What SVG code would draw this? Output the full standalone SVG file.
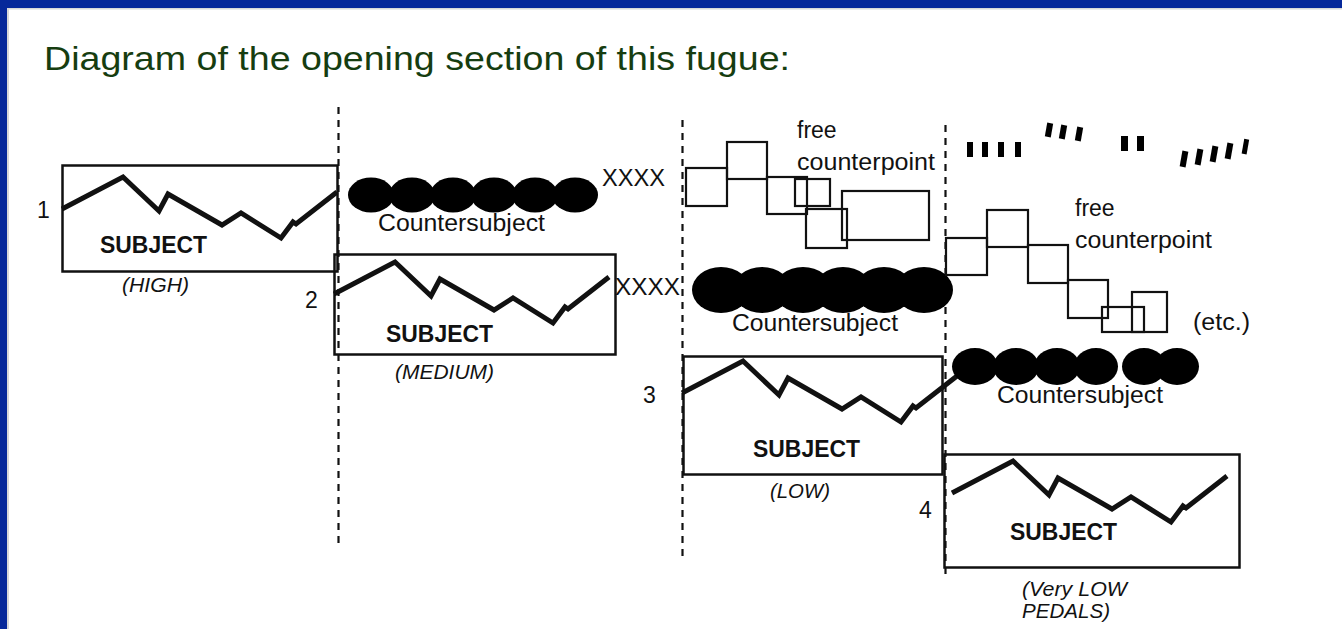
<svg xmlns="http://www.w3.org/2000/svg" xmlns:xlink="http://www.w3.org/1999/xlink" width="1342" height="629" viewBox="0 0 1342 629">
<style>
.t{font-family:"Liberation Sans",Arial,sans-serif;fill:#111}
.lbl{font-size:23px}
.sub{font-size:23px;font-weight:bold}
.it{font-size:20.5px;font-style:italic}
.box{fill:none;stroke:#111;stroke-width:2.5}
.sq{fill:none;stroke:#111;stroke-width:2.2}
.zz{fill:none;stroke:#111;stroke-width:5;stroke-linejoin:miter}
.dash{stroke:#111;stroke-width:2.2;stroke-dasharray:7,6}
.cs{fill:#000}
.bar{fill:#000}
</style>
<defs>
<path id="zz" d="M0,0 L61,-32 L97,2 L106,-15 L160,16 L179,4 L219,29 L231,13 L234,15 L275,-17"/>
</defs>
<rect x="0" y="0" width="1342" height="629" fill="#fff"/>
<rect x="0" y="0" width="1342" height="8" fill="#06289a"/>
<rect x="0" y="0" width="7" height="629" fill="#06289a"/>
<rect x="7" y="8" width="2" height="621" fill="#d8d8d8"/>
<rect x="7" y="8" width="1335" height="1.5" fill="#d8d8d8"/>

<text x="44" y="70" font-family="Liberation Sans,Arial,sans-serif" font-size="33" fill="#163d10" textLength="746" lengthAdjust="spacingAndGlyphs">Diagram of the opening section of this fugue:</text>

<g id="connectors">
<line class="dash" x1="338.5" y1="107" x2="338.5" y2="546"/>
<line class="dash" x1="682.5" y1="120" x2="682.5" y2="561"/>
<line class="dash" x1="945.5" y1="125" x2="945.5" y2="575"/>
</g>

<g id="entry1">
<rect class="box" x="62.5" y="165.5" width="275" height="106"/>
<use xlink:href="#zz" href="#zz" class="zz" transform="translate(62,209)"/>
<text class="t sub" x="100" y="253" textLength="107" lengthAdjust="spacingAndGlyphs">SUBJECT</text>
<text class="t it" x="122" y="292" textLength="67" lengthAdjust="spacingAndGlyphs">(HIGH)</text>
<text class="t lbl" x="37" y="218">1</text>
</g>

<g id="countersubject1">
<ellipse class="cs" cx="371" cy="195" rx="23" ry="17.5"/>
<ellipse class="cs" cx="412" cy="195" rx="23" ry="17.5"/>
<ellipse class="cs" cx="453" cy="195" rx="23" ry="17.5"/>
<ellipse class="cs" cx="494" cy="195" rx="23" ry="17.5"/>
<ellipse class="cs" cx="535" cy="195" rx="23" ry="17.5"/>
<ellipse class="cs" cx="575" cy="195" rx="23" ry="17.5"/>
<text class="t lbl" x="378" y="231" textLength="167" lengthAdjust="spacingAndGlyphs">Countersubject</text>
<text class="t lbl" x="602" y="186" textLength="63" lengthAdjust="spacingAndGlyphs">XXXX</text>
</g>

<g id="entry2">
<rect class="box" x="334.5" y="254.5" width="281" height="100"/>
<use xlink:href="#zz" href="#zz" class="zz" transform="translate(334,294)"/>
<text class="t sub" x="386" y="342" textLength="107" lengthAdjust="spacingAndGlyphs">SUBJECT</text>
<text class="t it" x="395" y="379" textLength="99" lengthAdjust="spacingAndGlyphs">(MEDIUM)</text>
<text class="t lbl" x="305" y="308">2</text>
<text class="t lbl" x="615" y="295" textLength="65" lengthAdjust="spacingAndGlyphs">XXXX</text>
</g>

<g id="freecp1">
<rect class="sq" x="686" y="168" width="41" height="38"/>
<rect class="sq" x="727" y="142" width="40" height="37"/>
<rect class="sq" x="767" y="177" width="40" height="37"/>
<rect class="sq" x="795" y="179" width="35" height="27"/>
<rect class="sq" x="806" y="209" width="41" height="39"/>
<rect class="sq" x="842" y="191" width="87" height="49"/>
<text class="t lbl" x="797" y="138">free</text>
<text class="t lbl" x="797" y="170" textLength="138" lengthAdjust="spacingAndGlyphs">counterpoint</text>
</g>

<g id="countersubject2">
<ellipse class="cs" cx="721" cy="290" rx="29" ry="23"/>
<ellipse class="cs" cx="762" cy="290" rx="29" ry="23"/>
<ellipse class="cs" cx="803" cy="290" rx="29" ry="23"/>
<ellipse class="cs" cx="843" cy="290" rx="29" ry="23"/>
<ellipse class="cs" cx="884" cy="290" rx="29" ry="23"/>
<ellipse class="cs" cx="924" cy="290" rx="29" ry="23"/>
<text class="t lbl" x="732" y="331" textLength="166" lengthAdjust="spacingAndGlyphs">Countersubject</text>
</g>

<g id="entry3">
<rect class="box" x="683.5" y="356.5" width="259" height="118"/>
<use xlink:href="#zz" href="#zz" class="zz" transform="translate(682,393)"/>
<text class="t sub" x="753" y="457" textLength="107" lengthAdjust="spacingAndGlyphs">SUBJECT</text>
<text class="t it" x="770" y="498" textLength="60" lengthAdjust="spacingAndGlyphs">(LOW)</text>
<text class="t lbl" x="643" y="403">3</text>
</g>

<g id="freecp2">
<rect class="bar" x="967" y="142" width="6" height="15"/>
<rect class="bar" x="982" y="142" width="6" height="15"/>
<rect class="bar" x="998" y="142" width="6" height="15"/>
<rect class="bar" x="1015" y="142" width="6" height="15"/>
<rect class="bar" x="1046" y="123" width="6" height="14" transform="rotate(10 1049 130)"/>
<rect class="bar" x="1060" y="125" width="6" height="14" transform="rotate(10 1063 132)"/>
<rect class="bar" x="1076" y="127" width="6" height="14" transform="rotate(10 1079 134)"/>
<rect class="bar" x="1121" y="136" width="7" height="15"/>
<rect class="bar" x="1137" y="136" width="7" height="15"/>
<rect class="bar" x="1181" y="151" width="6" height="16" transform="rotate(10 1184 159)"/>
<rect class="bar" x="1196" y="149" width="6" height="16" transform="rotate(10 1199 157)"/>
<rect class="bar" x="1211" y="146" width="6" height="16" transform="rotate(10 1214 154)"/>
<rect class="bar" x="1226" y="143" width="6" height="16" transform="rotate(10 1229 151)"/>
<rect class="bar" x="1243" y="139" width="5" height="15" transform="rotate(10 1245 146)"/>
<rect class="sq" x="946" y="238" width="41" height="37"/>
<rect class="sq" x="987" y="210" width="41" height="37"/>
<rect class="sq" x="1028" y="245" width="40" height="38"/>
<rect class="sq" x="1068" y="280" width="40" height="38"/>
<rect class="sq" x="1102" y="307" width="42" height="25"/>
<rect class="sq" x="1132" y="292" width="35" height="40"/>
<text class="t lbl" x="1075" y="216">free</text>
<text class="t lbl" x="1075" y="248" textLength="137" lengthAdjust="spacingAndGlyphs">counterpoint</text>
<text class="t lbl" x="1193" y="330" textLength="57" lengthAdjust="spacingAndGlyphs">(etc.)</text>
</g>

<g id="countersubject3">
<ellipse class="cs" cx="975" cy="366.5" rx="23" ry="18.5"/>
<ellipse class="cs" cx="1016" cy="366.5" rx="23" ry="18.5"/>
<ellipse class="cs" cx="1057" cy="366.5" rx="23" ry="18.5"/>
<ellipse class="cs" cx="1096" cy="366.5" rx="22" ry="18.5"/>
<ellipse class="cs" cx="1144" cy="366.5" rx="22" ry="18.5"/>
<ellipse class="cs" cx="1177" cy="366.5" rx="22" ry="18.5"/>
<text class="t lbl" x="997" y="403" textLength="166" lengthAdjust="spacingAndGlyphs">Countersubject</text>
</g>

<g id="entry4">
<rect class="box" x="944.5" y="454.5" width="295" height="113"/>
<use xlink:href="#zz" href="#zz" class="zz" transform="translate(952,493)"/>
<text class="t sub" x="1010" y="540" textLength="107" lengthAdjust="spacingAndGlyphs">SUBJECT</text>
<text class="t it" x="1022" y="596" textLength="105" lengthAdjust="spacingAndGlyphs">(Very LOW</text>
<text class="t it" x="1022" y="618" textLength="88" lengthAdjust="spacingAndGlyphs">PEDALS)</text>
<text class="t lbl" x="919" y="518">4</text>
</g>
</svg>
